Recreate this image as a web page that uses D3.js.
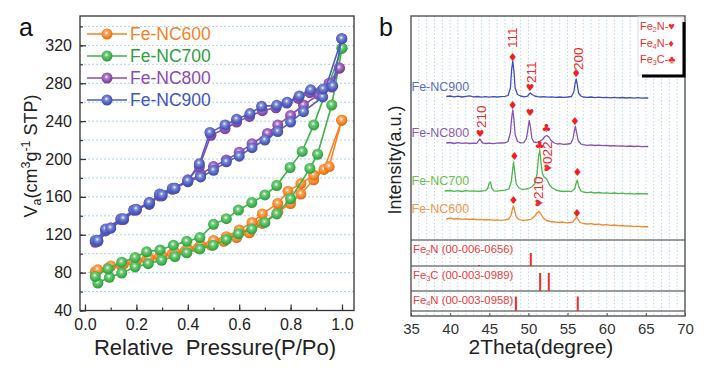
<!DOCTYPE html>
<html><head><meta charset="utf-8">
<script src="https://cdn.jsdelivr.net/npm/d3@7"></script>
<style>
body{margin:0;background:#fff;}
svg{display:block;font-family:"Liberation Sans",Arial,sans-serif;}
</style></head><body>
<svg id="c" width="714" height="383"></svg>
<script>
// ================= DATA : panel a (N2 isotherms) =================
const isoNames  = ["Fe-NC600","Fe-NC700","Fe-NC800","Fe-NC900"];
const isoColors = ["#f5821f","#3db44a","#8c4bb0","#4c5dc2"];
const isoTextColors = ["#f5821f","#2f9e3f","#8c4bb0","#4355b8"];

const ads600P = [0.04,0.09,0.14,0.19,0.24,0.29,0.34,0.39,0.44,0.49,0.54,0.59,0.64,0.69,0.75,0.80,0.84,0.89,0.93,0.999];
const ads600V = [81,85,88,91,94,97,100,103,106,109,113,117,122,132,144,153,163,178,189,241];
const des600P = [0.999,0.95,0.89,0.84,0.79,0.75,0.69,0.65,0.60,0.55,0.50,0.45,0.40,0.35,0.30,0.25,0.20,0.15,0.10,0.05];
const des600V = [241,192,183,174,166,153,142,133,125,118,114,109,105,101,98,95,92,89,87,83];

const ads700P = [0.05,0.095,0.143,0.195,0.246,0.298,0.35,0.396,0.447,0.499,0.55,0.597,0.649,0.70,0.746,0.80,0.875,0.905,0.96,1.0];
const ads700V = [69,75,79.5,86,89.5,93,97,101,105,109,115,121,126,133,142,158,190,205,257,317];
const des700P = [1.0,0.89,0.845,0.798,0.746,0.70,0.649,0.597,0.55,0.50,0.447,0.396,0.344,0.292,0.24,0.195,0.143,0.09,0.04];
const des700V = [317,236,208,191,172,162,154,146,137,131,117,113,109,104,102,96,91,84,76];

const ads800P = [0.04,0.08,0.14,0.19,0.25,0.29,0.34,0.40,0.45,0.50,0.55,0.60,0.65,0.71,0.75,0.80,0.85,0.91,0.95,0.99];
const ads800V = [112,124,136,146,152,161,168,176,184,192,199,207,216,227,236,246,257,268,280,296];
const des800P = [0.99,0.96,0.92,0.875,0.83,0.785,0.743,0.69,0.64,0.59,0.545,0.49,0.445,0.40,0.35,0.30,0.25,0.20,0.15,0.10,0.05];
const des800V = [296,276,272,270,264,259,254,251,245,239,232,225,192,178,169,161,154,146,136,127,113];

const ads900P = [0.04,0.08,0.14,0.19,0.25,0.29,0.34,0.40,0.45,0.50,0.55,0.60,0.65,0.70,0.75,0.80,0.85,0.925,0.999];
const ads900V = [114,126,137,146,153,163,169,176,181,188,197,203,212,220,229,239,250,265.5,327];
const des900P = [0.999,0.964,0.927,0.878,0.834,0.787,0.746,0.687,0.642,0.59,0.545,0.486,0.445,0.40,0.35,0.30,0.25,0.20,0.15,0.10,0.05];
const des900V = [327,277,274,273,266.6,260,256.7,255.6,248,242,236,228,195,177,169,162,154,147,137,127,114];

const isoYTicks = [40,80,120,160,200,240,280,320];
const isoXTicks = [0.0,0.2,0.4,0.6,0.8,1.0];

// ================= DATA : panel b (XRD) =================
const xrdNames  = ["Fe-NC900","Fe-NC800","Fe-NC700","Fe-NC600"];
const xrdColors = ["#3f4fbf","#8650bd","#4cb848","#f5892a"];
const xrdLabelColors = ["#5b6bc8","#8a5ab8","#6cc04a","#f5954a"];
const xrdOffsets = [218, 169.5, 122, 89];

const xrd900 = [[39.5,1.5],[40,2],[40.5,1.2],[41,1.8],[41.5,1],[42,1.6],[42.5,2.2],[43,1.2],[43.5,1.5],[44,0.8],[44.5,1.3],[45,0.9],[45.5,1.4],[46,1.0],[46.5,1.3],[47,1.6],[47.4,2.5],[47.7,10],[47.85,28],[48.0,37],[48.15,27],[48.3,10],[48.6,3.5],[49,2],[49.5,1.2],[49.9,1.8],[50.1,4],[50.25,5],[50.45,3.5],[50.8,2],[51.2,1.3],[51.6,1],[52,1.4],[52.5,0.8],[53,1.1],[53.5,0.6],[54,1],[54.5,0.7],[55,1],[55.5,1.5],[55.8,6],[55.95,14],[56.1,19],[56.25,13],[56.4,5],[56.7,2],[57,1],[57.5,0.6],[58,1],[58.5,0.4],[59,0.8],[59.5,0.3],[60,0.7],[60.5,0.2],[61,0.6],[61.5,0.1],[62,0.5],[62.5,0],[63,0.4],[63.5,-0.2],[64,0.3],[64.5,-0.1],[65,0.2],[65.3,0]];
const xrd800 = [[39.5,3.5],[40,4],[40.5,3],[41,3.8],[41.5,3.2],[42,3.6],[42.5,3],[43,3.4],[43.4,3.2],[43.65,6],[43.8,7.5],[43.95,5.5],[44.2,3.3],[44.6,3],[45,3.4],[45.5,2.8],[46,3.3],[46.5,3.5],[47,3.6],[47.4,5],[47.7,14],[47.85,28],[48.0,36.5],[48.15,27],[48.3,12],[48.6,5],[49,3.6],[49.4,3.8],[49.75,8],[49.95,18],[50.1,26],[50.25,20],[50.45,8],[50.7,4.5],[51,4],[51.4,5],[51.8,7],[52.1,10],[52.35,11],[52.6,9.5],[52.9,6],[53.3,3.5],[53.7,2.5],[54,2.8],[54.5,2.2],[55,2.5],[55.4,3],[55.7,8],[55.85,15],[56.0,20],[56.15,14],[56.35,6],[56.7,2.5],[57,1.8],[57.5,1.2],[58,1.6],[58.5,1],[59,1.3],[59.5,0.8],[60,1.1],[60.5,0.5],[61,0.9],[61.5,0.4],[62,0.6],[62.5,0.1],[63,0.5],[63.5,0],[64,0.3],[64.5,-0.2],[65,0.1],[65.3,0]];
const xrd700 = [[39.3,3],[40,3.5],[40.5,2.6],[41,3.3],[41.5,2.5],[42,3.4],[42.5,2.8],[43,3.2],[43.5,2.7],[44,3],[44.5,3.3],[44.8,5.5],[45.0,11],[45.15,12],[45.3,6],[45.6,3.2],[46,2.8],[46.5,3.3],[47,3.8],[47.5,5],[47.8,12],[47.95,22],[48.1,32],[48.25,22],[48.45,10],[48.8,6],[49.2,4.5],[49.6,4.8],[50,5.5],[50.4,7],[50.8,10],[51.1,20],[51.3,38],[51.45,44],[51.6,32],[51.8,20],[52.0,17],[52.2,16],[52.4,14],[52.7,9],[53,6.5],[53.5,4],[54,3],[54.5,2.5],[55,2.8],[55.5,2.4],[55.9,5],[56.1,11],[56.25,14],[56.4,8],[56.7,3],[57,2],[57.5,1.4],[58,1.8],[58.5,1],[59,1.5],[59.5,0.8],[60,1.2],[60.5,0.6],[61,1],[61.5,0.3],[62,0.8],[62.5,0.2],[63,0.6],[63.5,-0.1],[64,0.5],[64.5,0.1],[65,0.3],[65.3,0]];
const xrd600 = [[39.5,8],[40,8.8],[40.5,8],[41,8.5],[41.5,7.6],[42,8.2],[42.5,7.5],[43,8],[43.5,7.2],[44,7.6],[44.5,7],[45,7.4],[45.5,6.8],[46,7.2],[46.5,6.6],[47,7.2],[47.5,8],[47.8,12],[47.95,18],[48.1,21],[48.25,16],[48.45,10],[48.8,7.5],[49.2,6.5],[49.6,6.8],[50,7],[50.4,8],[50.8,11],[51.1,14],[51.35,15.5],[51.6,13],[51.9,9],[52.3,6.5],[52.8,5.5],[53.3,5],[53.8,4.6],[54.3,5],[54.8,4.2],[55.3,4.5],[55.7,5],[55.95,8],[56.15,10],[56.35,7.5],[56.6,4.5],[57,3.5],[57.5,3],[58,3.4],[58.5,2.5],[59,2.8],[59.5,2],[60,2.4],[60.5,1.6],[61,2],[61.5,1.2],[62,1.5],[62.5,0.8],[63,1.2],[63.5,0.4],[64,0.8],[64.5,0.2],[65,0.5],[65.3,0]];
const xrdSeries = [xrd900, xrd800, xrd700, xrd600];

// peak markers: [2theta, intensity level, glyph]
const peakMarks = [[48.0,258.3,"♦"],[50.2,229,"♥"],[56.1,242.7,"♦"],
  [43.8,182.7,"♥"],[48.0,211,"♦"],[50.2,203.3,"♥"],[52.3,187.7,"♣"],[55.95,194.3,"♦"],
  [48.2,159.3,"♦"],[51.45,171,"♣"],[56.25,143.3,"♦"],
  [48.1,115.3,"♦"],[56.2,102.7,"♦"]];
// rotated hkl labels: [2theta, intensity start level, text]
const hklLabels = [[48.0,268,"111"],[50.4,233,"211"],[56.35,246,"200"],[44.0,188,"210"],[52.45,144,"♥022"],[51.35,109,"♥210"]];

// reference (PDF card) sticks
const refNames = [["Fe","2","N (00-006-0656)"],["Fe","3","C (00-003-0989)"],["Fe","4","N (00-003-0958)"]];
const refRowTop = [76, 50, 25];
const refRowBase = [50, 25, 5];
const refSticks = [[[50.3,13],[43.7,1]],[[51.5,18],[52.6,18]],[[48.4,14.5],[56.3,14.5]]];
const xrdXTicks = [35,40,45,50,55,60,65,70];
const phaseLegend = [["Fe","2","N-♥"],["Fe","4","N-♦"],["Fe","3","C-♣"]];

// ================= DRAW =================
const svg = d3.select("#c");
const defs = svg.append("defs");
isoColors.forEach((c,i)=>{
  const g = defs.append("radialGradient").attr("id","sph"+i).attr("cx","45%").attr("cy","40%").attr("r","60%");
  g.append("stop").attr("offset","0%").attr("stop-color","#ffffff").attr("stop-opacity",0.95);
  g.append("stop").attr("offset","28%").attr("stop-color",d3.interpolateRgb(c,"#fff")(0.3));
  g.append("stop").attr("offset","70%").attr("stop-color",c);
  g.append("stop").attr("offset","100%").attr("stop-color",d3.color(c).darker(0.5));
});

// ---------- panel a ----------
const A = {l:80,r:354,t:16,b:310.5};
const xA = d3.scaleLinear().domain([-0.0194,1.0467]).range([A.l,A.r]);
const yA = d3.scaleLinear().domain([40,351]).range([A.b,A.t]);
const gA = svg.append("g");

gA.append("g").selectAll("line").data(d3.range(60,345,20)).join("line")
  .attr("x1",A.l).attr("x2",A.r).attr("y1",d=>yA(d)).attr("y2",d=>yA(d))
  .attr("stroke","#a9d3ef").attr("stroke-width",1).attr("stroke-dasharray","2,2");

const fs = "16px";
const axYminor = gA.append("g").attr("transform",`translate(${A.l},0)`)
  .call(d3.axisLeft(yA).tickValues(d3.range(40,345,20)).tickSize(-3).tickFormat(""));
const axY = gA.append("g").attr("transform",`translate(${A.l},0)`)
  .call(d3.axisLeft(yA).tickValues(isoYTicks).tickSize(-6).tickPadding(8));
const axXminor = gA.append("g").attr("transform",`translate(0,${A.b})`)
  .call(d3.axisBottom(xA).tickValues(d3.range(0,1.05,0.1)).tickSize(-3).tickFormat(""));
const axX = gA.append("g").attr("transform",`translate(0,${A.b})`)
  .call(d3.axisBottom(xA).tickValues(isoXTicks).tickSize(-6).tickPadding(8).tickFormat(d3.format(".1f")));
[axYminor,axY,axXminor,axX].forEach(a=>{a.select(".domain").remove();a.selectAll("line").attr("stroke","#333").attr("stroke-width",1.2);
  a.selectAll("text").attr("font-size",fs).attr("fill","#222").attr("font-family","Liberation Sans, Arial");});

gA.append("rect").attr("x",A.l).attr("y",A.t).attr("width",A.r-A.l).attr("height",A.b-A.t)
  .attr("fill","none").attr("stroke","#333").attr("stroke-width",1.3);

const isoData = [[ads600P,ads600V,des600P,des600V],[ads700P,ads700V,des700P,des700V],
                 [ads800P,ads800V,des800P,des800V],[ads900P,ads900V,des900P,des900V]];
const lineA = d3.line().x(d=>xA(d[0])).y(d=>yA(d[1]));
isoData.forEach((s,i)=>{
  const ads = s[0].map((p,k)=>[p,s[1][k]]);
  const des = s[2].map((p,k)=>[p,s[3][k]]);
  const g = gA.append("g");
  [ads,des].forEach(br=>{
    g.append("path").datum(br).attr("d",lineA).attr("fill","none").attr("stroke",isoColors[i]).attr("stroke-width",1.6);
  });
  [ads,des].forEach(br=>{
    g.selectAll(null).data(br).join("circle").attr("cx",d=>xA(d[0])).attr("cy",d=>yA(d[1])).attr("r",5.5)
      .attr("fill",`url(#sph${i})`);
  });
});

// legend a
isoNames.forEach((n,i)=>{
  const y = 34 + i*22;
  gA.append("line").attr("x1",87).attr("x2",127).attr("y1",y).attr("y2",y).attr("stroke",isoColors[i]).attr("stroke-width",1.6);
  gA.append("circle").attr("cx",107).attr("cy",y).attr("r",5.5).attr("fill",`url(#sph${i})`);
  gA.append("text").attr("x",130).attr("y",y).attr("dy","0.36em").attr("font-size","17.5px").attr("fill",isoTextColors[i]).text(n);
});

gA.append("text").attr("x",215).attr("y",355).attr("text-anchor","middle").attr("font-size","22px").attr("fill","#222")
  .style("white-space","pre").text("Relative  Pressure(P/Po)");
const yt = gA.append("text").attr("transform","translate(37,156) rotate(-90)").attr("text-anchor","middle").attr("font-size","18px").attr("fill","#222");
yt.append("tspan").text("V");
yt.append("tspan").attr("font-size","12.5px").attr("dy","4").text("a");
yt.append("tspan").attr("dy","-4").text("(cm");
yt.append("tspan").attr("font-size","12.5px").attr("dy","-7").text("3");
yt.append("tspan").attr("dy","7").text("g");
yt.append("tspan").attr("font-size","12.5px").attr("dy","-7").text("-1");
yt.append("tspan").attr("dy","7").style("white-space","pre").text(" STP)");
gA.append("text").attr("x",19).attr("y",36).attr("font-size","25px").attr("fill","#111").text("a");

// ---------- panel b ----------
const B = {l:411,r:685,t:16,b:316};
const xB = d3.scaleLinear().domain([35,70]).range([B.l,B.r]);
const yB = d3.scaleLinear().domain([0,300]).range([B.b,B.t]);
const gB = svg.append("g");

gB.append("g").selectAll("line").data(d3.range(36,70,1)).join("line")
  .attr("x1",d=>xB(d)).attr("x2",d=>xB(d)).attr("y1",B.t).attr("y2",B.b)
  .attr("stroke","#b5dcf2").attr("stroke-width",1).attr("stroke-dasharray","1.5,2");

// reference rows
const rowLines = [refRowTop[0], refRowTop[1], refRowTop[2], refRowBase[2]];
gB.selectAll(null).data(rowLines).join("line").attr("x1",B.l).attr("x2",B.r)
  .attr("y1",d=>yB(d)).attr("y2",d=>yB(d)).attr("stroke","#7a7a7a").attr("stroke-width",1.4);
refNames.forEach((n,i)=>{
  const t = gB.append("text").attr("x",B.l+2).attr("y",yB(refRowTop[i])+13).attr("font-size","11.3px").attr("fill","#ee3a3a");
  t.append("tspan").text(n[0]);
  t.append("tspan").attr("font-size","7.5px").attr("dy","2").text(n[1]);
  t.append("tspan").attr("dy","-2").text(n[2]);
  refSticks[i].forEach(s=>{
    gB.append("line").attr("x1",xB(s[0])).attr("x2",xB(s[0])).attr("y1",yB(refRowBase[i])).attr("y2",yB(refRowBase[i]+s[1]))
      .attr("stroke","#ee2a2a").attr("stroke-width",2);
  });
});

// XRD curves
const lineB = d3.line().x(d=>xB(d[0]));
xrdSeries.forEach((s,i)=>{
  gB.append("path").datum(s).attr("d",lineB.y(d=>yB(d[1]+xrdOffsets[i]))).attr("fill","none")
    .attr("stroke",xrdColors[i]).attr("stroke-width",1.3).attr("stroke-linejoin","round");
  gB.append("text").attr("x",B.l+0.5).attr("y",yB(xrdOffsets[i]+s[0][1])-6).attr("font-size","12.5px")
    .attr("fill",xrdLabelColors[i]).text(xrdNames[i]);
});
gB.selectAll(null).data(peakMarks).join("text").attr("x",d=>xB(d[0])).attr("y",d=>yB(d[1]))
  .attr("text-anchor","middle").attr("dominant-baseline","central").attr("font-size",d=>d[2]==="♥"?"9.5px":"11px").attr("fill","#ee2020")
  .attr("font-family","DejaVu Sans").text(d=>d[2]);
gB.selectAll(null).data(hklLabels).join("text")
  .attr("transform",d=>`translate(${xB(d[0])},${yB(d[1])}) rotate(-90)`)
  .attr("dominant-baseline","central").attr("font-size","13.5px").attr("fill","#ee2a2a").text(d=>d[2]);

// axis
const axB = gB.append("g").attr("transform",`translate(0,${B.b})`)
  .call(d3.axisBottom(xB).tickValues(xrdXTicks).tickSize(-3).tickPadding(7));
axB.select(".domain").remove();
axB.selectAll("line").attr("stroke","#555");
axB.selectAll("text").attr("font-size","15px").attr("fill","#333").attr("font-family","Liberation Sans, Arial");
gB.append("rect").attr("x",B.l).attr("y",B.t).attr("width",B.r-B.l).attr("height",B.b-B.t)
  .attr("fill","none").attr("stroke","#555").attr("stroke-width",1.4);

// phase legend
gB.append("rect").attr("x",638).attr("y",17).attr("width",45).attr("height",58).attr("fill","#fff").attr("stroke","#ddd");
gB.append("path").attr("d","M642,76 H684 V22").attr("fill","none").attr("stroke","#000").attr("stroke-width",3);
phaseLegend.forEach((p,i)=>{
  const t = gB.append("text").attr("x",640).attr("y",30+i*16.5).attr("font-size","11px").attr("fill","#ee3030");
  t.append("tspan").text(p[0]);
  t.append("tspan").attr("font-size","7px").attr("dy","2").text(p[1]);
  t.append("tspan").attr("dy","-2").text(p[2]);
});

gB.append("text").attr("x",541).attr("y",354).attr("text-anchor","middle").attr("font-size","21px").attr("fill","#222").text("2Theta(degree)");
gB.append("text").attr("transform","translate(395,160) rotate(-90)").attr("text-anchor","middle").attr("dominant-baseline","central")
  .attr("font-size","18px").attr("fill","#222").text("Intensity(a.u.)");
gB.append("text").attr("x",379).attr("y",36).attr("font-size","25px").attr("fill","#111").text("b");
</script>
</body></html>
